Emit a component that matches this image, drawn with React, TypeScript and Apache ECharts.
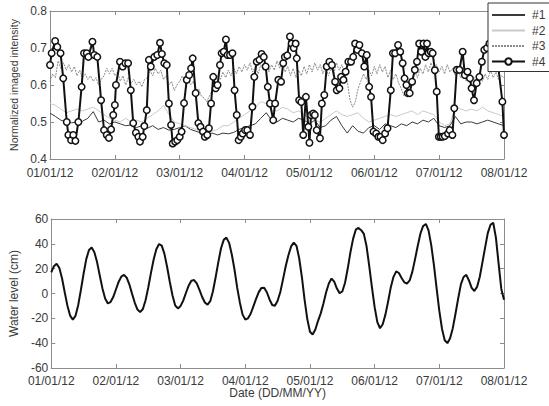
import React, { useEffect, useRef } from "react";
import * as echarts from "echarts";

// x values are hours since 01/01/12 00:00 (0..168 = 7 days)
const dayTicks = ["01/01/12", "02/01/12", "03/01/12", "04/01/12", "05/01/12", "06/01/12", "07/01/12", "08/01/12"];
const seriesNames = ["#1", "#2", "#3", "#4"];

// #1 and #2 sampled every 2 hours
const s1Values = [
  0.524, 0.515, 0.505, 0.5, 0.498, 0.5, 0.502, 0.51, 0.528, 0.5, 0.505, 0.495, 0.5,
  0.495, 0.49, 0.492, 0.485, 0.49, 0.483, 0.49, 0.48, 0.485, 0.478, 0.48, 0.485,
  0.49, 0.48, 0.475, 0.47, 0.465, 0.47, 0.465, 0.47, 0.468, 0.472, 0.48, 0.485,
  0.49, 0.495, 0.51, 0.525, 0.505, 0.5, 0.51, 0.505, 0.5, 0.51, 0.505, 0.495,
  0.505, 0.485, 0.49, 0.505, 0.515, 0.49, 0.47, 0.49, 0.475, 0.47, 0.485, 0.49,
  0.48, 0.495, 0.49, 0.485, 0.495, 0.49, 0.5, 0.495, 0.505, 0.5, 0.51, 0.49,
  0.485, 0.49, 0.515, 0.495, 0.5, 0.5, 0.495, 0.5, 0.505, 0.5, 0.495, 0.49
];
const s2Values = [
  0.55, 0.545, 0.535, 0.525, 0.53, 0.535, 0.53, 0.535, 0.54, 0.53, 0.52, 0.51, 0.505,
  0.5, 0.51, 0.5, 0.505, 0.5, 0.51, 0.52, 0.53, 0.545, 0.52, 0.5, 0.495,
  0.49, 0.485, 0.48, 0.475, 0.47, 0.475, 0.48, 0.49, 0.49, 0.5, 0.51, 0.52,
  0.53, 0.54, 0.555, 0.55, 0.53, 0.53, 0.54, 0.535, 0.525, 0.53, 0.52, 0.51,
  0.505, 0.5, 0.51, 0.52, 0.53, 0.52, 0.515, 0.52, 0.525, 0.51, 0.5, 0.505,
  0.51, 0.515, 0.52, 0.515, 0.52, 0.525, 0.53, 0.52, 0.53, 0.525, 0.52, 0.5,
  0.49, 0.495, 0.54, 0.535, 0.53, 0.535, 0.53, 0.54, 0.53, 0.525, 0.52, 0.515
];
// #3 sampled every hour
const s3Values = [
  0.61, 0.63, 0.62, 0.665, 0.645, 0.66, 0.64, 0.655, 0.635, 0.65, 0.625, 0.64, 0.62,
  0.63, 0.615, 0.625, 0.61, 0.62, 0.6, 0.615, 0.625, 0.645, 0.63, 0.645, 0.625,
  0.635, 0.61, 0.625, 0.6, 0.62, 0.605, 0.615, 0.6, 0.61, 0.595, 0.615, 0.62,
  0.64, 0.625, 0.645, 0.63, 0.64, 0.615, 0.625, 0.6, 0.61, 0.585, 0.6, 0.61,
  0.625, 0.605, 0.62, 0.6, 0.61, 0.585, 0.59, 0.57, 0.565, 0.555, 0.57, 0.585,
  0.61, 0.625, 0.615, 0.635, 0.62, 0.64, 0.625, 0.645, 0.63, 0.65, 0.635, 0.655,
  0.64, 0.66, 0.635, 0.65, 0.63, 0.655, 0.64, 0.66, 0.635, 0.655, 0.64, 0.665,
  0.645, 0.66, 0.635, 0.65, 0.625, 0.645, 0.62, 0.64, 0.625, 0.65, 0.63, 0.655,
  0.635, 0.66, 0.64, 0.655, 0.63, 0.65, 0.625, 0.645, 0.63, 0.66, 0.64, 0.655,
  0.63, 0.61, 0.56, 0.54, 0.555, 0.59, 0.61, 0.63, 0.615, 0.64, 0.625, 0.65,
  0.63, 0.655, 0.635, 0.65, 0.62, 0.64, 0.615, 0.63, 0.605, 0.59, 0.57, 0.58,
  0.6, 0.615, 0.635, 0.62, 0.645, 0.63, 0.655, 0.635, 0.66, 0.64, 0.655, 0.635,
  0.65, 0.63, 0.655, 0.635, 0.645, 0.625, 0.64, 0.62, 0.635, 0.61, 0.625, 0.605,
  0.62, 0.6, 0.625, 0.61, 0.63, 0.615, 0.64, 0.62, 0.635, 0.615, 0.625, 0.62
];
// #4 markers: read hour positions and values
const s4Hours = [
  0, 0.6, 1.9, 2.7, 3.9, 4.9, 6.2, 6.8, 7.8, 8.6, 9.4, 10.5, 11.7, 12.6, 13.6, 14.2, 15.7, 16.4, 17.5, 18.9,
  20, 21, 21.8, 22.6, 23.4, 24, 24.4, 25.9, 26.9, 27.9, 28.9, 29.9, 30.8, 31.8, 32.7, 33.3, 34.3, 34.9, 35.8,
  36.6, 37.3, 38.6, 39.7, 40.7, 41.4, 42.3, 43.2, 44, 44.8, 45.4, 46.3, 47.1, 48, 48.7, 49.6, 50.6, 51.5,
  52.2, 52.8, 53.9, 54.9, 55.7, 56.6, 57.3, 58.2, 58.8, 59.6, 60.4, 61.3, 62, 62.9, 63.5, 64.3, 65.1, 65.7,
  66.6, 67.5, 68.3, 69.1, 69.8, 70.6, 71.3, 72.2, 73, 74, 74.9, 75.6, 76.5, 77.5, 78.3, 79.1, 79.8, 80.6,
  81.4, 82.6, 83.3, 84.5, 85.5, 86.3, 86.9, 87.8, 88.8, 89.4, 90.2, 90.9, 91.3, 92.2, 93, 93.7, 94.7, 95.6,
  96, 96.6, 97.4, 98, 98.7, 99.9, 100.6, 101.5, 102.4, 103.4, 104.3, 105.5, 106.1, 107.1, 107.7, 108.6,
  109.4, 110.4, 111.4, 112.2, 112.9, 113.7, 114.5, 115.4, 116.3, 117.2, 118.1, 118.8, 119.7, 120.7, 121.5,
  122.3, 123.1, 124, 124.9, 126.1, 126.9, 127.7, 128.8, 129.6, 130.5, 131.2, 131.9, 132.4, 133.1, 134, 135,
  135.8, 136.6, 137.4, 138.2, 138.9, 139.5, 140.1, 140.9, 141.6, 142.4, 143.1, 143.9, 144.6, 145.3, 146.1,
  147.3, 147.9, 148.9, 149.6, 150.5, 151.5, 152.7, 153.5, 154.5, 155.4, 156, 156.9, 157.9, 158.9, 159.8,
  160.7, 161.7, 162.6, 164, 165.5, 167.4, 168
];
const s4Values = [
  0.654, 0.686, 0.719, 0.703, 0.686, 0.618, 0.5, 0.465, 0.451, 0.465, 0.449, 0.5, 0.595, 0.686, 0.686, 0.676, 0.717, 0.681, 0.676, 0.559,
  0.478, 0.465, 0.457, 0.48, 0.519, 0.546, 0.6, 0.663, 0.65, 0.659, 0.659, 0.586, 0.497, 0.471, 0.46, 0.447, 0.46, 0.489, 0.532,
  0.668, 0.65, 0.676, 0.681, 0.714, 0.684, 0.659, 0.654, 0.55, 0.492, 0.442, 0.447, 0.451, 0.46, 0.474, 0.551, 0.614, 0.627,
  0.645, 0.672, 0.578, 0.497, 0.487, 0.474, 0.46, 0.465, 0.483, 0.55, 0.622, 0.591, 0.6, 0.654, 0.686, 0.69, 0.723, 0.681,
  0.681, 0.686, 0.586, 0.519, 0.451, 0.46, 0.469, 0.478, 0.478, 0.465, 0.541, 0.622, 0.663, 0.668, 0.684, 0.676, 0.65, 0.595,
  0.55, 0.505, 0.55, 0.614, 0.609, 0.659, 0.676, 0.68, 0.731, 0.712, 0.7, 0.712, 0.672, 0.559, 0.554, 0.465, 0.568, 0.487,
  0.444, 0.519, 0.523, 0.519, 0.478, 0.456, 0.55, 0.573, 0.65, 0.663, 0.654, 0.609, 0.586, 0.591, 0.622, 0.614,
  0.636, 0.663, 0.663, 0.676, 0.712, 0.695, 0.708, 0.686, 0.65, 0.681, 0.595, 0.568, 0.474, 0.469, 0.46,
  0.46, 0.451, 0.469, 0.483, 0.586, 0.686, 0.686, 0.708, 0.69, 0.659, 0.618, 0.6, 0.578, 0.578, 0.609, 0.641,
  0.663, 0.712, 0.69, 0.712, 0.676, 0.712, 0.686, 0.69, 0.686, 0.64, 0.582, 0.46, 0.46, 0.46, 0.462,
  0.469, 0.478, 0.465, 0.537, 0.641, 0.641, 0.69, 0.627, 0.636, 0.618, 0.591, 0.559, 0.605, 0.622, 0.663,
  0.695, 0.7, 0.712, 0.7, 0.672, 0.555, 0.465
];
// Water level (cm), hourly
const waterLevel = [
  17, 22, 24, 20.5, 12.3, 1, -9.8, -17.8, -21, -18, -9.4, 2.8, 15.9, 27.7, 35, 37, 33.2, 25.3, 14.5, 4.1, -4, -8,
  -6.9, -2.9, 3.2, 9.3, 13.6, 15, 12.7, 7.2, -0.3, -7.5, -12.9, -15, -12.5, -5.4, 4.8, 16.6, 27.4, 35.6, 39.8,
  38.6, 31.9, 21.3, 9.3, -1.6, -9.7, -12, -10, -5.6, 0.6, 6.4, 10.3, 10.8, 8.2, 3, -2.8, -7.2, -9, -6.2, 1.8,
  13.1, 25.3, 36.4, 43.2, 45, 40.8, 31.4, 19.3, 4.7, -7.4, -17, -21, -20, -16.3, -10.3, -4.4, 1.1, 4.5, 4.6, 1,
  -4.8, -9.3, -9.9, -5.9, 1.2, 11.4, 21.9, 30.8, 37.9, 41, 38.4, 28.4, 13.3, -4.9, -20.4, -30.8, -33, -29, -22,
  -16, -8, 1, 8, 12, 9.5, 4, 0.3, 1.6, 8.5, 19.9, 33, 44, 51.4, 52.8, 51, 48, 38, 22, 5, -11, -23, -28, -24.8,
  -17, -6.4, 5.1, 13.4, 17.8, 16.5, 12.5, 9, 8, 10.5, 17.6, 27.7, 38.5, 48.3, 54.4, 56, 50.8, 39, 22.9, 4.2,
  -14, -28.5, -37.7, -40, -36.1, -27.9, -16.3, -4, 7.3, 13.3, 15, 10.5, 4.5, 2, 5.3, 13.3, 25.1, 37.2, 48.8,
  55.4, 57, 45, 24, 3.7, -5
];

const FONT = "'Liberation Sans', Arial, Helvetica, sans-serif";
const AXIS_GRAY = "#8c8c8c";
const TEXT = "#3a3a3a";

export default function App() {
  const ref = useRef<HTMLDivElement>(null);

  useEffect(() => {
    if (!ref.current) return;
    const chart = echarts.init(ref.current, undefined, { renderer: "svg" });

    const every2 = (vals: number[]) => vals.map((v, i) => [i * 2, v]);
    const every1 = (vals: number[]) => vals.map((v, i) => [i, v]);

    const xLabel = (v: number) => dayTicks[Math.round(v / 24)] ?? "";

    const baseX = (grid: number, position: "bottom" | "top", labels: boolean, margin: number) => ({
      type: "value",
      gridIndex: grid,
      position,
      min: 0,
      max: 168,
      interval: 24,
      axisLine: { show: true, onZero: false, lineStyle: { color: AXIS_GRAY, width: 1 } },
      axisTick: { show: true, inside: true, length: 4, lineStyle: { color: AXIS_GRAY } },
      axisLabel: {
        show: labels,
        formatter: xLabel,
        color: TEXT,
        fontSize: 12,
        lineHeight: 11,
        fontFamily: FONT,
        margin,
      },
      splitLine: { show: false },
    });

    const baseY = (
      grid: number,
      position: "left" | "right",
      labels: boolean,
      min: number,
      max: number,
      interval: number,
      fmt: (v: number) => string
    ) => ({
      type: "value",
      gridIndex: grid,
      position,
      min,
      max,
      interval,
      axisLine: { show: true, onZero: false, lineStyle: { color: AXIS_GRAY, width: 1 } },
      axisTick: { show: true, inside: true, length: 4, lineStyle: { color: AXIS_GRAY } },
      axisLabel: {
        show: labels,
        formatter: fmt,
        color: TEXT,
        fontSize: 12,
        lineHeight: 10,
        fontFamily: FONT,
        margin: 3,
      },
      splitLine: { show: false },
    });

    const option: any = {
      animation: false,
      backgroundColor: "#ffffff",
      textStyle: { fontFamily: FONT },
      grid: [
        { left: 50, right: 45, top: 11, height: 148 },
        { left: 50, right: 45, top: 219, height: 149 },
      ],
      xAxis: [
        baseX(0, "bottom", true, 8),
        baseX(0, "top", false, 8),
        {
          ...baseX(1, "bottom", true, 7),
          name: "Date (DD/MM/YY)",
          nameLocation: "middle",
          nameGap: 19,
          nameTextStyle: { color: TEXT, fontSize: 12, fontFamily: FONT },
        },
        baseX(1, "top", false, 7),
      ],
      yAxis: [
        {
          ...baseY(0, "left", true, 0.4, 0.8, 0.1, (v: number) => v.toFixed(1)),
          name: "Normalized imaged intensity",
          nameLocation: "middle",
          nameGap: 19,
          nameTextStyle: { color: TEXT, fontSize: 10.5, fontFamily: FONT },
        },
        baseY(0, "right", false, 0.4, 0.8, 0.1, (v: number) => String(v)),
        {
          ...baseY(1, "left", true, -60, 60, 20, (v: number) => String(v)),
          name: "Water level (cm)",
          nameLocation: "middle",
          nameGap: 28,
          nameTextStyle: { color: TEXT, fontSize: 12, fontFamily: FONT },
        },
        baseY(1, "right", false, -60, 60, 20, (v: number) => String(v)),
      ],
      legend: {
        data: [
          { name: seriesNames[0], itemStyle: { opacity: 0 } },
          { name: seriesNames[1], itemStyle: { opacity: 0 } },
          { name: seriesNames[2], itemStyle: { opacity: 0 } },
          { name: seriesNames[3] },
        ],
        orient: "vertical",
        left: 488,
        top: 3,
        itemWidth: 33,
        itemHeight: 8,
        itemGap: 3.5,
        padding: [6, 8, 4, 3],
        backgroundColor: "#ffffff",
        borderColor: "#333333",
        borderWidth: 1,
        borderRadius: 0,
        textStyle: { color: TEXT, fontSize: 12, fontFamily: FONT, padding: [0, 0, 0, 2] },
        z: 10,
      },
      series: [
        {
          name: seriesNames[0],
          type: "line",
          xAxisIndex: 0,
          yAxisIndex: 0,
          data: every2(s1Values),
          symbol: "none",
          lineStyle: { color: "#3a3a3a", width: 1 },
          itemStyle: { color: "#3a3a3a" },
          z: 2,
        },
        {
          name: seriesNames[1],
          type: "line",
          xAxisIndex: 0,
          yAxisIndex: 0,
          data: every2(s2Values),
          symbol: "none",
          lineStyle: { color: "#c9c9c9", width: 1 },
          itemStyle: { color: "#c9c9c9" },
          z: 2,
        },
        {
          name: seriesNames[2],
          type: "line",
          xAxisIndex: 0,
          yAxisIndex: 0,
          data: every1(s3Values),
          symbol: "none",
          lineStyle: { color: "#8a8a8a", width: 1, type: [2, 1] },
          itemStyle: { color: "#8a8a8a" },
          z: 2,
        },
        {
          name: seriesNames[3],
          type: "line",
          xAxisIndex: 0,
          yAxisIndex: 0,
          data: s4Hours.map((h, i) => [h, s4Values[i]]),
          symbol: "circle",
          symbolSize: 6.5,
          showAllSymbol: true,
          lineStyle: { color: "#111111", width: 2 },
          itemStyle: { color: "#ffffff", borderColor: "#111111", borderWidth: 1.5 },
          z: 3,
        },
        {
          name: "Water level",
          type: "line",
          xAxisIndex: 2,
          yAxisIndex: 2,
          data: every1(waterLevel),
          symbol: "none",
          lineStyle: { color: "#111111", width: 2 },
          itemStyle: { color: "#111111" },
        },
      ],
    };

    chart.setOption(option);
    return () => chart.dispose();
  }, []);

  return (
    <div
      ref={ref}
      style={{ position: "fixed", left: 0, top: 0, width: 549, height: 406, background: "#fff" }}
    />
  );
}
